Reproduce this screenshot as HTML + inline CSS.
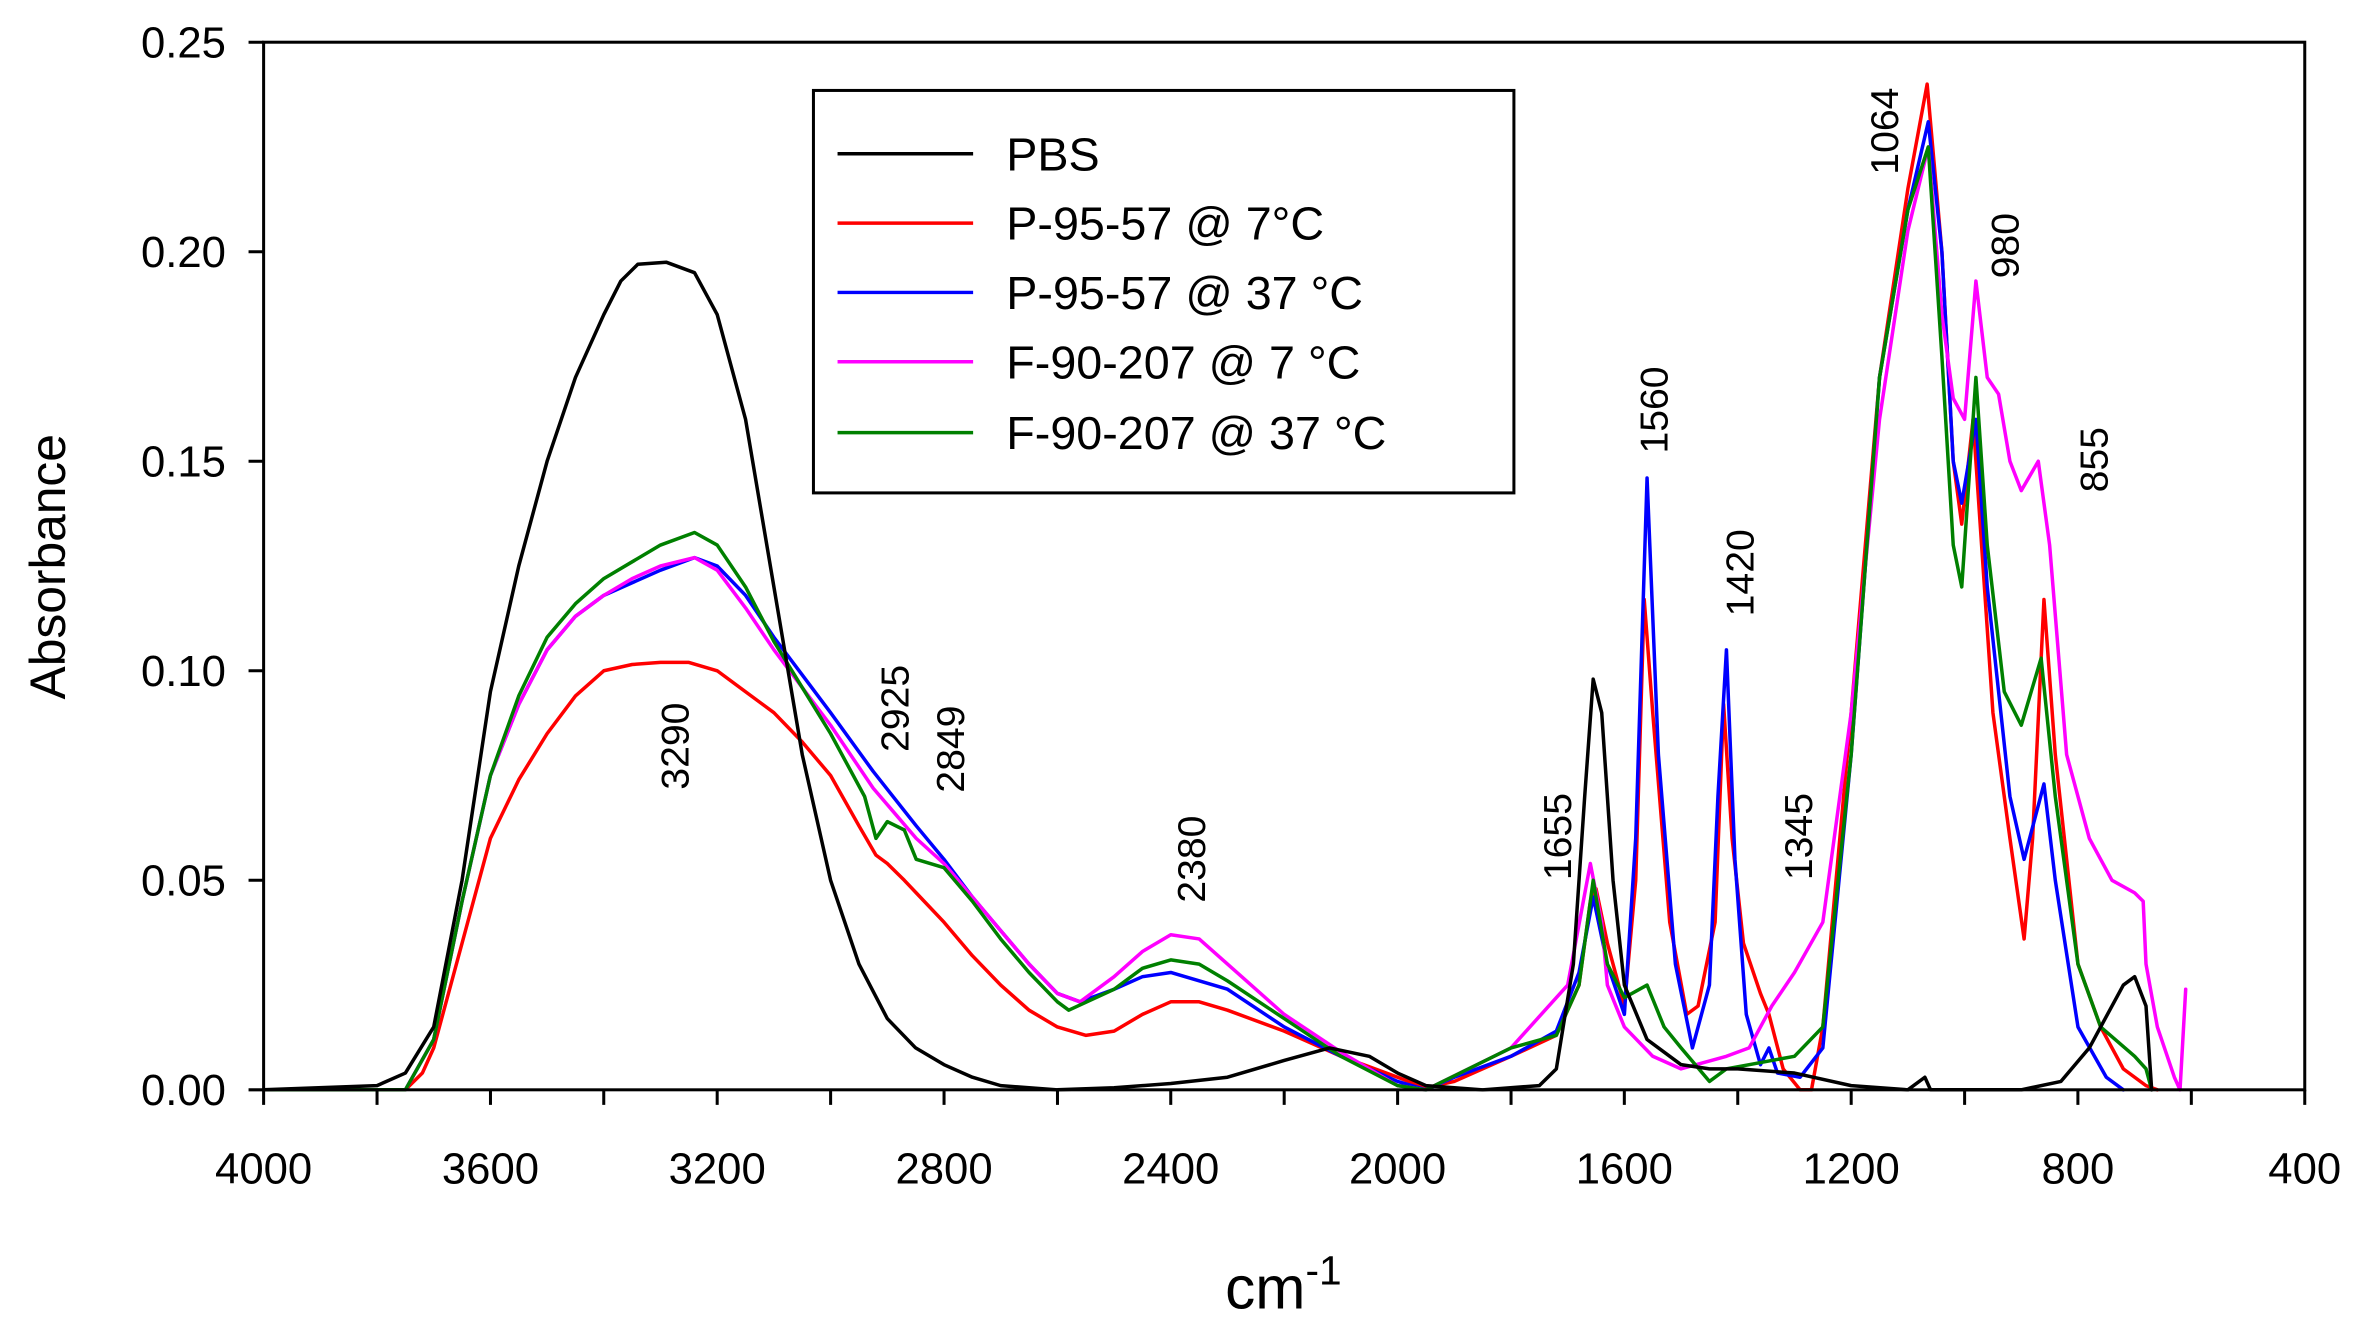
<!DOCTYPE html>
<html><head><meta charset="utf-8"><style>html,body{margin:0;padding:0;background:#fff}svg{display:block}</style></head>
<body>
<svg width="2362" height="1334" viewBox="0 0 1568 885" preserveAspectRatio="none" font-family="Liberation Sans, sans-serif">
<rect x="0" y="0" width="1568" height="885" fill="#fff"/>
<g fill="none" stroke-width="3.5" stroke-linejoin="round" stroke-linecap="round">
<g transform="matrix(-0.37639 0 0 -2.78 1680.56 723)">
<polyline vector-effect="non-scaling-stroke" stroke="#ff0000" points="4000,0 3750,0 3720,4 3700,10 3650,35 3600,60 3550,74 3500,85 3450,94 3400,100 3350,101.5 3300,102 3250,102 3200,100 3150,95 3100,90 3050,83 3000,75 2950,63 2920,56 2900,54 2870,50 2849,47 2800,40 2750,32 2700,25 2650,19 2600,15 2550,13 2500,14 2450,18 2400,21 2350,21 2300,19 2200,14 2100,8 2000,3 1950,0.5 1900,2 1800,8 1720,13 1680,25 1660,45 1650,48 1630,35 1600,20 1580,50 1565,117 1550,90 1520,40 1490,18 1470,20 1440,40 1425,92 1410,60 1390,35 1360,23 1345,18 1320,5 1290,0 1270,0 1250,15 1200,90 1150,170 1100,215 1066,240 1040,200 1020,150 1005,135 985,160 970,130 950,90 920,60 895,36 880,60 860,117 840,80 800,30 760,15 720,5 680,1 660,0"/>
<polyline vector-effect="non-scaling-stroke" stroke="#0000ff" points="4000,0 3750,0 3700,12 3650,45 3600,75 3550,92 3500,105 3450,113 3400,118 3350,121 3300,124 3240,127 3200,125 3150,118 3100,108 3050,99 3000,90 2925,76 2849,63 2800,55 2750,46 2700,38 2650,30 2600,23 2560,21 2500,24 2450,27 2400,28 2300,24 2200,15 2100,8 2000,2 1950,0 1900,3 1800,8 1720,14 1680,28 1655,46 1630,30 1600,18 1580,60 1560,146 1540,80 1510,30 1480,10 1450,25 1435,70 1420,105 1405,55 1385,18 1360,6 1345,10 1330,4 1290,3 1250,10 1200,80 1150,170 1100,210 1064,231 1040,200 1020,150 1005,140 980,160 960,120 920,70 895,55 860,73 840,50 800,15 750,3 720,0"/>
<polyline vector-effect="non-scaling-stroke" stroke="#ff00ff" points="4000,0 3750,0 3700,12 3650,45 3600,75 3550,92 3500,105 3450,113 3400,118 3350,122 3300,125 3240,127 3200,124 3150,115 3100,105 3050,96 3000,87 2925,72 2849,60 2800,54 2750,46 2700,38 2650,30 2600,23 2560,21 2500,27 2450,33 2400,37 2350,36 2300,30 2200,18 2100,9 2000,1 1950,0 1800,10 1700,25 1660,54 1640,40 1630,25 1600,15 1550,8 1500,5 1420,8 1380,10 1340,20 1300,28 1250,40 1200,90 1150,160 1100,205 1064,225 1040,185 1020,165 1000,160 980,193 960,170 940,166 920,150 900,143 870,150 850,130 820,80 780,60 740,50 700,47 685,45 680,30 660,15 630,3 620,0 610,24"/>
<polyline vector-effect="non-scaling-stroke" stroke="#008000" points="4000,0 3750,0 3700,12 3650,45 3600,75 3550,94 3500,108 3450,116 3400,122 3350,126 3300,130 3240,133 3200,130 3150,120 3100,107 3050,96 3000,85 2940,70 2920,60 2900,64 2870,62 2849,55 2800,53 2750,45 2700,36 2650,28 2600,21 2580,19 2500,24 2450,29 2400,31 2350,30 2300,26 2200,17 2100,8 2000,1 1950,0 1800,10 1720,13 1680,25 1655,50 1630,30 1600,22 1560,25 1530,15 1500,10 1450,2 1420,5 1380,6 1300,8 1250,15 1200,80 1150,170 1100,210 1064,225 1040,175 1020,130 1005,120 980,170 960,130 930,95 900,87 865,103 840,70 800,30 760,15 700,8 680,5 670,0"/>
<polyline vector-effect="non-scaling-stroke" stroke="#000000" points="4000,0 3800,1 3750,4 3700,15 3650,50 3600,95 3550,125 3500,150 3450,170 3400,185 3370,193 3340,197 3290,197.5 3240,195 3200,185 3150,160 3100,120 3050,80 3000,50 2950,30 2900,17 2850,10 2800,6 2750,3 2700,1 2600,0 2500,0.5 2400,1.5 2300,3 2200,7 2120,10 2050,8 2000,4 1950,1 1850,0 1750,1 1720,5 1690,30 1670,70 1655,98 1640,90 1620,50 1600,25 1560,12 1500,6 1450,5 1400,5 1300,4 1200,1 1100,0 1070,3 1060,0 900,0 830,2 780,10 720,25 700,27 680,20 670,0"/>
</g>
</g>
<g fill="none">
<rect x="175" y="28" width="1355" height="695" stroke="#000" stroke-width="2"/>
<g stroke="#000" stroke-width="2">
<path d="M175,723v10M250.3,723v10M325.6,723v10M400.8,723v10M476.1,723v10M551.4,723v10M626.7,723v10M702,723v10M777.2,723v10M852.5,723v10M927.8,723v10M1003.1,723v10M1078.3,723v10M1153.6,723v10M1228.9,723v10M1304.2,723v10M1379.4,723v10M1454.7,723v10M1530,723v10"/>
<path d="M175,723h-10M175,584h-10M175,445h-10M175,306h-10M175,167h-10M175,28h-10"/>
</g>
</g>
<g font-size="29" fill="#000" text-anchor="end">
<text x="150" y="733">0.00</text><text x="150" y="594">0.05</text><text x="150" y="455">0.10</text><text x="150" y="316">0.15</text><text x="150" y="177">0.20</text><text x="150" y="38">0.25</text>
</g>
<g font-size="29" fill="#000" text-anchor="middle">
<text x="175" y="785">4000</text><text x="325.6" y="785">3600</text><text x="476.1" y="785">3200</text><text x="626.7" y="785">2800</text><text x="777.2" y="785">2400</text><text x="927.8" y="785">2000</text><text x="1078.3" y="785">1600</text><text x="1228.9" y="785">1200</text><text x="1379.4" y="785">800</text><text x="1530" y="785">400</text>
</g>
<text x="852" y="868" font-size="40" text-anchor="middle">cm<tspan font-size="27" dy="-16">-1</tspan></text>
<text transform="translate(43,376) rotate(-90)" font-size="33" text-anchor="middle">Absorbance</text>
<g font-size="26" fill="#000" text-anchor="middle">
<text transform="translate(457,495) rotate(-90)">3290</text>
<text transform="translate(603,470) rotate(-90)">2925</text>
<text transform="translate(640,497) rotate(-90)">2849</text>
<text transform="translate(800,570) rotate(-90)">2380</text>
<text transform="translate(1043,555) rotate(-90)">1655</text>
<text transform="translate(1107,272) rotate(-90)">1560</text>
<text transform="translate(1164,380) rotate(-90)">1420</text>
<text transform="translate(1203,555) rotate(-90)">1345</text>
<text transform="translate(1260,87) rotate(-90)">1064</text>
<text transform="translate(1340,163) rotate(-90)">980</text>
<text transform="translate(1399,305) rotate(-90)">855</text>
</g>
<rect x="540" y="60" width="465" height="267" fill="#fff" stroke="#000" stroke-width="2"/>
<g stroke-width="2.3">
<line x1="556" y1="102" x2="646" y2="102" stroke="#000"/>
<line x1="556" y1="148" x2="646" y2="148" stroke="#f00"/>
<line x1="556" y1="194" x2="646" y2="194" stroke="#00f"/>
<line x1="556" y1="240" x2="646" y2="240" stroke="#f0f"/>
<line x1="556" y1="287" x2="646" y2="287" stroke="#008000"/>
</g>
<g font-size="31" fill="#000">
<text x="668" y="113">PBS</text>
<text x="668" y="159">P-95-57 @ 7°C</text>
<text x="668" y="205">P-95-57 @ 37 °C</text>
<text x="668" y="251">F-90-207 @ 7 °C</text>
<text x="668" y="298">F-90-207 @ 37 °C</text>
</g>
</svg>
</body></html>
